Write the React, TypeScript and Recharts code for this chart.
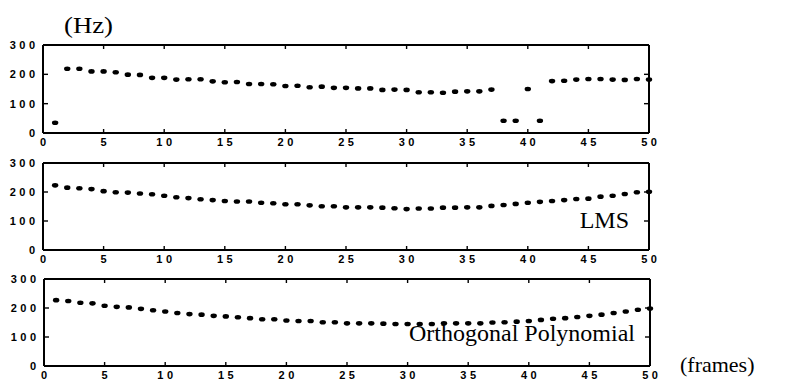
import React from 'react';
import { ScatterChart, Scatter, XAxis, YAxis } from 'recharts';

// frame index, 1..50
const frames = [
  1, 2, 3, 4, 5, 6, 7, 8, 9, 10,
  11, 12, 13, 14, 15, 16, 17, 18, 19, 20,
  21, 22, 23, 24, 25, 26, 27, 28, 29, 30,
  31, 32, 33, 34, 35, 36, 37, 38, 39, 40,
  41, 42, 43, 44, 45, 46, 47, 48, 49, 50,
];

// raw pitch estimate (Hz)
const rawPitch = [
  35, 219, 219, 210, 210, 207, 199, 198, 188, 188,
  182, 183, 183, 176, 173, 174, 167, 167, 166, 160,
  161, 156, 158, 154, 154, 152, 152, 147, 148, 147,
  139, 139, 137, 141, 142, 142, 148, 42, 42, 150,
  42, 177, 178, 182, 184, 184, 182, 181, 184, 182,
];

// LMS smoothed contour (Hz)
const lmsPitch = [
  223, 215, 213, 210, 203, 199, 198, 195, 192, 187,
  182, 179, 175, 172, 169, 167, 167, 163, 161, 158,
  158, 154, 151, 151, 147, 147, 147, 146, 144, 141,
  143, 143, 146, 146, 147, 147, 152, 155, 159, 163,
  166, 169, 172, 176, 177, 184, 187, 193, 199, 201,
];

// orthogonal polynomial fit (Hz)
const polyPitch = [
  227, 224, 218, 216, 208, 204, 202, 197, 192, 188,
  183, 179, 177, 173, 171, 168, 165, 161, 161, 157,
  155, 155, 151, 151, 147, 147, 147, 146, 145, 145,
  145, 145, 147, 147, 147, 147, 150, 151, 153, 155,
  159, 163, 165, 169, 173, 177, 183, 188, 194, 198,
];

const xTicks = [0, 5, 10, 15, 20, 25, 30, 35, 40, 45, 50];
const yTicks = [0, 100, 200, 300];

const W = 793;
const tickFont = {
  fontFamily: '"Liberation Sans", Arial, sans-serif',
  fontWeight: 700,
  fontSize: 11,
  letterSpacing: 3.5,
  fill: '#000',
};
const serif = '"Liberation Serif", "Times New Roman", serif';

const toPoints = (vals: number[]) => frames.map((f, i) => ({ frame: f, hz: vals[i] }));

const Blob = (props: any) => {
  const { cx, cy } = props;
  if (cx == null || cy == null) return null;
  return <ellipse cx={cx} cy={cy} rx={3.2} ry={2.3} fill="#000" />;
};

const BottomTick = ({ x, y, payload }: any) => (
  <g>
    <line x1={x} y1={y} x2={x} y2={y - 4} stroke="#000" strokeWidth={1.4} />
    <text x={x + 1.75} y={y + 13} textAnchor="middle" style={tickFont}>
      {payload.value}
    </text>
  </g>
);

const LeftTick = ({ x, y, payload }: any) => (
  <g>
    {payload.value > 0 && payload.value < 300 && (
      <line x1={x} y1={y} x2={x + 5} y2={y} stroke="#000" strokeWidth={1.4} />
    )}
    <text x={x - 4.5} y={y + 4} textAnchor="end" style={tickFont}>
      {payload.value}
    </text>
  </g>
);

const TopTick = ({ x, y, payload }: any) =>
  payload.value > 0 && payload.value < 50 ? (
    <line x1={x} y1={y} x2={x} y2={y + 4} stroke="#000" strokeWidth={1.4} />
  ) : (
    <g />
  );

const RightTick = ({ x, y, payload }: any) =>
  payload.value > 0 && payload.value < 300 ? (
    <line x1={x} y1={y} x2={x - 5} y2={y} stroke="#000" strokeWidth={1.4} />
  ) : (
    <g />
  );

const frameLine = { stroke: '#000', strokeWidth: 2 };

type PanelProps = {
  values: number[];
  top: number;
  height: number;
  margin: { top: number; right: number; bottom: number; left: number };
};

// margins leave 1px for each axis band, so the plot box lands where the frame is
const Panel = ({ values, top, height, margin }: PanelProps) => (
  <div style={{ position: 'absolute', left: 0, top }}>
    <ScatterChart width={W} height={height} margin={margin}>
      <XAxis
        type="number"
        dataKey="frame"
        domain={[0, 50]}
        ticks={xTicks}
        interval={0}
        height={1}
        tickSize={0}
        tickMargin={0}
        tickLine={false}
        axisLine={frameLine}
        tick={<BottomTick />}
      />
      <XAxis
        xAxisId="top"
        orientation="top"
        type="number"
        dataKey="frame"
        domain={[0, 50]}
        ticks={xTicks}
        interval={0}
        height={1}
        tickSize={0}
        tickMargin={0}
        tickLine={false}
        axisLine={frameLine}
        tick={<TopTick />}
      />
      <YAxis
        type="number"
        dataKey="hz"
        domain={[0, 300]}
        ticks={yTicks}
        interval={0}
        width={1}
        tickSize={0}
        tickMargin={0}
        tickLine={false}
        axisLine={frameLine}
        tick={<LeftTick />}
      />
      <YAxis
        yAxisId="right"
        orientation="right"
        type="number"
        dataKey="hz"
        domain={[0, 300]}
        ticks={yTicks}
        interval={0}
        width={1}
        tickSize={0}
        tickMargin={0}
        tickLine={false}
        axisLine={frameLine}
        tick={<RightTick />}
      />
      <Scatter data={toPoints(values)} shape={<Blob />} isAnimationActive={false} />
      <Scatter
        xAxisId="top"
        yAxisId="right"
        data={toPoints(values)}
        shape={() => <g />}
        isAnimationActive={false}
      />
    </ScatterChart>
  </div>
);

export default function App() {
  return (
    <div style={{ position: 'absolute', left: 0, top: 0, width: W, height: 381, background: '#fff' }}>
      <Panel values={rawPitch} top={0} height={150} margin={{ top: 44, right: 143, bottom: 16, left: 42 }} />
      <Panel values={lmsPitch} top={150} height={115} margin={{ top: 12, right: 143, bottom: 14, left: 42 }} />
      <Panel values={polyPitch} top={265} height={116} margin={{ top: 13, right: 142, bottom: 14, left: 43 }} />
      <svg width={W} height={381} style={{ position: 'absolute', left: 0, top: 0, pointerEvents: 'none' }}>
        <text x={64} y={33} fontFamily={serif} fontSize={23} textLength={49} lengthAdjust="spacingAndGlyphs">
          (Hz)
        </text>
        <text x={629} y={228} textAnchor="end" fontFamily={serif} fontSize={24}>LMS</text>
        <text x={635} y={341} textAnchor="end" fontFamily={serif} fontSize={24}>Orthogonal Polynomial</text>
        <text x={680} y={372} fontFamily={serif} fontSize={22}>(frames)</text>
      </svg>
    </div>
  );
}
